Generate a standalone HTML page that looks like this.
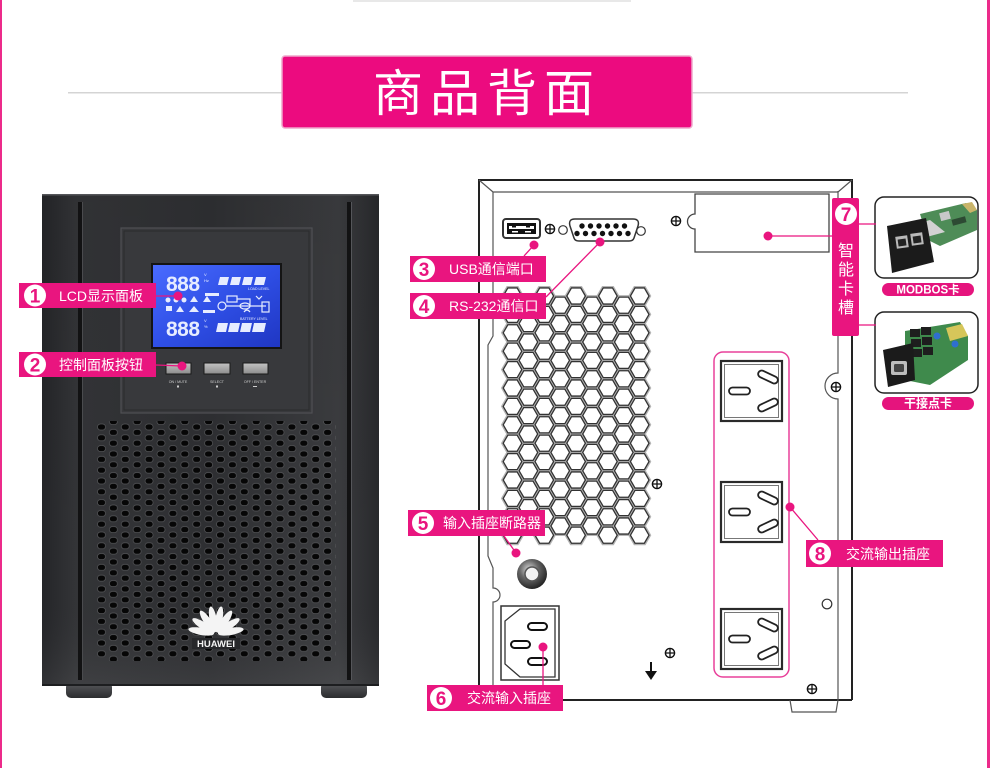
<!DOCTYPE html>
<html><head><meta charset="utf-8">
<style>
html,body{margin:0;padding:0;background:#fff;}
svg{display:block;}
text{font-family:"Liberation Sans","Noto Sans CJK SC",sans-serif;}
</style></head><body>
<svg width="990" height="768" viewBox="0 0 990 768" xmlns="http://www.w3.org/2000/svg" xmlns:xlink="http://www.w3.org/1999/xlink">
<defs>
 <linearGradient id="body" x1="0" x2="1" y1="0" y2="0">
  <stop offset="0" stop-color="#242528"/>
  <stop offset="0.1" stop-color="#333437"/>
  <stop offset="0.5" stop-color="#2e2f32"/>
  <stop offset="0.88" stop-color="#3b3c3f"/>
  <stop offset="1" stop-color="#28292c"/>
 </linearGradient>
 <linearGradient id="bodyv" x1="0" x2="0" y1="0" y2="1">
  <stop offset="0" stop-color="#000" stop-opacity="0.05"/>
  <stop offset="0.8" stop-color="#000" stop-opacity="0"/>
  <stop offset="1" stop-color="#fff" stop-opacity="0.06"/>
 </linearGradient>
 <linearGradient id="lcd" x1="0" x2="1" y1="0" y2="1">
  <stop offset="0" stop-color="#4a6cff"/>
  <stop offset="0.5" stop-color="#2f4fe6"/>
  <stop offset="1" stop-color="#1f36c2"/>
 </linearGradient>
 <linearGradient id="btn" x1="0" x2="0" y1="0" y2="1">
  <stop offset="0" stop-color="#c4c4c4"/>
  <stop offset="1" stop-color="#8c8c8c"/>
 </linearGradient>
 <linearGradient id="foot" x1="0" x2="0" y1="0" y2="1">
  <stop offset="0" stop-color="#5a5b5e"/>
  <stop offset="1" stop-color="#2b2c2e"/>
 </linearGradient>
 <radialGradient id="brk" cx="0.4" cy="0.35" r="0.7">
  <stop offset="0" stop-color="#d8d8d8"/>
  <stop offset="0.45" stop-color="#666"/>
  <stop offset="1" stop-color="#1c1c1c"/>
 </radialGradient>
 <pattern id="holes" patternUnits="userSpaceOnUse" x="97" y="423" width="23.8" height="10.8">
  <rect x="0.5" y="1" width="8" height="6" rx="3" fill="#060606" stroke="#56575a" stroke-width="0.7"/>
  <rect x="12.4" y="6.4" width="8" height="6" rx="3" fill="#060606" stroke="#56575a" stroke-width="0.7"/>
  <rect x="12.4" y="-4.4" width="8" height="6" rx="3" fill="#060606" stroke="#56575a" stroke-width="0.7"/>
 </pattern>
 <path id="hxg" d="M-9.3,0 L-4.65,-8.05 L4.65,-8.05 L9.3,0 L4.65,8.05 L-4.65,8.05Z" fill="none" stroke="#b4b4b4" stroke-width="4"/>
 <path id="hx" d="M-9.3,0 L-4.65,-8.05 L4.65,-8.05 L9.3,0 L4.65,8.05 L-4.65,8.05Z" fill="#fff" stroke="#333" stroke-width="1.3"/>
 <g id="colAg">
  <use href="#hxg" y="0"/><use href="#hxg" y="18.4"/><use href="#hxg" y="36.8"/><use href="#hxg" y="55.2"/><use href="#hxg" y="73.6"/><use href="#hxg" y="92"/><use href="#hxg" y="110.4"/><use href="#hxg" y="128.8"/><use href="#hxg" y="147.2"/><use href="#hxg" y="165.6"/><use href="#hxg" y="184"/><use href="#hxg" y="202.4"/><use href="#hxg" y="220.8"/><use href="#hxg" y="239.2"/>
 </g>
 <g id="colBg">
  <use href="#hxg" y="9.2"/><use href="#hxg" y="27.6"/><use href="#hxg" y="46"/><use href="#hxg" y="64.4"/><use href="#hxg" y="82.8"/><use href="#hxg" y="101.2"/><use href="#hxg" y="119.6"/><use href="#hxg" y="138"/><use href="#hxg" y="156.4"/><use href="#hxg" y="174.8"/><use href="#hxg" y="193.2"/><use href="#hxg" y="211.6"/><use href="#hxg" y="230"/>
 </g>
 <g id="colA">
  <use href="#hx" y="0"/><use href="#hx" y="18.4"/><use href="#hx" y="36.8"/><use href="#hx" y="55.2"/><use href="#hx" y="73.6"/><use href="#hx" y="92"/><use href="#hx" y="110.4"/><use href="#hx" y="128.8"/><use href="#hx" y="147.2"/><use href="#hx" y="165.6"/><use href="#hx" y="184"/><use href="#hx" y="202.4"/><use href="#hx" y="220.8"/><use href="#hx" y="239.2"/>
 </g>
 <g id="colB">
  <use href="#hx" y="9.2"/><use href="#hx" y="27.6"/><use href="#hx" y="46"/><use href="#hx" y="64.4"/><use href="#hx" y="82.8"/><use href="#hx" y="101.2"/><use href="#hx" y="119.6"/><use href="#hx" y="138"/><use href="#hx" y="156.4"/><use href="#hx" y="174.8"/><use href="#hx" y="193.2"/><use href="#hx" y="211.6"/><use href="#hx" y="230"/>
 </g>
 <g id="scr"><circle r="4.6" fill="#fff" stroke="#111" stroke-width="1.4"/><path d="M-4.6,0H4.6M0,-4.6V4.6" stroke="#111" stroke-width="1.3"/></g>
 <g id="outlet">
  <rect x="0" y="0" width="61" height="60" fill="#fff" stroke="#2a2a2a" stroke-width="2.2"/>
  <rect x="3.5" y="3.5" width="54" height="53" fill="none" stroke="#777" stroke-width="1"/>
  <rect x="8" y="26.5" width="21" height="7" rx="3.5" fill="#fff" stroke="#222" stroke-width="1.8"/>
  <rect x="-10.5" y="-3.5" width="21" height="7" rx="3.5" fill="#fff" stroke="#222" stroke-width="1.8" transform="translate(47,16) rotate(25)"/>
  <rect x="-10.5" y="-3.5" width="21" height="7" rx="3.5" fill="#fff" stroke="#222" stroke-width="1.8" transform="translate(47,44) rotate(-25)"/>
 </g>
</defs>

<!-- page edges -->
<rect x="0" y="0" width="2" height="768" fill="#ec2a8a"/>
<rect x="987" y="0" width="3" height="768" fill="#ec2a8a"/>
<rect x="353" y="0" width="278" height="2" fill="#e8e8e8"/>

<!-- title -->
<rect x="68" y="92" width="840" height="1.5" fill="#d4d4d4"/>
<rect x="282" y="56" width="410" height="72" rx="3" fill="#ec0b7f" stroke="#efa8cc" stroke-width="1.5"/>
<g font-size="50" fill="#fff" text-anchor="middle">
 <text x="398" y="111">商</text>
 <text x="455" y="111">品</text>
 <text x="512" y="111">背</text>
 <text x="569" y="111">面</text>
</g>

<!-- ================= LEFT UPS ================= -->
<rect x="66" y="682" width="46" height="16" rx="5" fill="url(#foot)"/>
<rect x="321" y="682" width="46" height="16" rx="5" fill="url(#foot)"/>
<rect x="42" y="194" width="337" height="492" rx="2" fill="url(#body)"/>
<rect x="42" y="194" width="337" height="492" rx="2" fill="url(#bodyv)"/>
<rect x="42" y="194" width="337" height="1.5" fill="#55565a"/>
<rect x="42" y="684" width="337" height="2" fill="#1d1e20"/>
<rect x="78" y="202" width="4" height="478" fill="#121213"/>
<rect x="82" y="202" width="1" height="478" fill="#4a4b4e"/>
<rect x="347" y="202" width="4" height="478" fill="#121213"/>
<rect x="351" y="202" width="1" height="478" fill="#55565a"/>

<!-- LCD frame -->
<rect x="121" y="228" width="191" height="185" fill="#38393c" stroke="#4f5054" stroke-width="1.2"/>
<rect x="124" y="231" width="185" height="179" fill="none" stroke="#2a2b2d" stroke-width="1"/>
<rect x="152" y="264" width="129" height="84" fill="url(#lcd)" stroke="#141414" stroke-width="2"/>
<g fill="#e6ecff">
 <text x="166" y="291" font-size="21" font-weight="bold" letter-spacing="-0.5">888</text>
 <text x="166" y="336" font-size="21" font-weight="bold" letter-spacing="-0.5">888</text>
 <text x="204" y="276" font-size="4">V</text><text x="204" y="282" font-size="4">Hz</text>
 <text x="204" y="322" font-size="4">V</text><text x="204" y="328" font-size="4">%</text>
 <polygon points="220,277 229,277 227,285 218,285"/>
 <polygon points="232,277 241,277 239,285 230,285"/>
 <polygon points="244,277 253,277 251,285 242,285"/>
 <polygon points="256,277 266,277 264,285 254,285"/>
 <text x="248" y="290" font-size="3.5">LOAD LEVEL</text>
 <polygon points="218,323 228,323 226,332 216,332"/>
 <polygon points="230,323 240,323 238,332 228,332"/>
 <polygon points="242,323 252,323 250,332 240,332"/>
 <polygon points="254,323 266,323 264,332 252,332"/>
 <text x="240" y="320" font-size="3.5">BATTERY LEVEL</text>
 <rect x="205" y="293" width="14" height="3"/>
 <circle cx="168" cy="300" r="2.5"/><circle cx="176" cy="300" r="2.5"/><circle cx="184" cy="300" r="2.5"/>
 <polygon points="190,302 194,296 198,302"/><polygon points="203,302 207,296 211,302"/>
 <rect x="166" y="306" width="6" height="5"/><polygon points="176,312 180,306 184,312"/><polygon points="189,312 194,306 199,312"/>
 <rect x="203" y="310" width="12" height="3"/>
</g>
<g fill="none" stroke="#e6ecff" stroke-width="1.2">
 <rect x="227" y="296" width="10" height="6"/>
 <circle cx="222" cy="306" r="4"/>
 <path d="M226,306 H266 M237,299 H250 V306"/>
 <ellipse cx="245" cy="306" rx="5" ry="3"/>
 <rect x="262" y="302" width="7" height="10"/>
 <path d="M244,312 q3,-4 6,0"/>
 <path d="M256,296 l3,3 l3,-3"/>
</g>
<!-- buttons -->
<rect x="166" y="363" width="25" height="11" fill="url(#btn)" stroke="#1a1a1a" stroke-width="1"/>
<rect x="204" y="363" width="26" height="11" fill="url(#btn)" stroke="#1a1a1a" stroke-width="1"/>
<rect x="243" y="363" width="25" height="11" fill="url(#btn)" stroke="#1a1a1a" stroke-width="1"/>
<g fill="#cfcfcf" font-size="3.6" text-anchor="middle">
 <text x="178" y="383">ON / MUTE</text>
 <text x="217" y="383">SELECT</text>
 <text x="255" y="383">OFF / ENTER</text>
 <rect x="177" y="385.5" width="2" height="2"/>
 <rect x="216" y="385.5" width="2" height="2"/>
 <rect x="253" y="386" width="4" height="1"/>
</g>

<!-- vent holes -->
<rect x="96" y="421" width="240" height="240" fill="url(#holes)"/>
<!-- huawei logo -->
<g fill="#f4f4f4" transform="translate(216,634)">
 <ellipse cx="0" cy="-15" rx="3.6" ry="13" transform="rotate(-80)"/>
 <ellipse cx="0" cy="-15" rx="3.6" ry="13" transform="rotate(-57)"/>
 <ellipse cx="0" cy="-15" rx="3.6" ry="13" transform="rotate(-34)"/>
 <ellipse cx="0" cy="-15" rx="3.6" ry="13" transform="rotate(-11)"/>
 <ellipse cx="0" cy="-15" rx="3.6" ry="13" transform="rotate(11)"/>
 <ellipse cx="0" cy="-15" rx="3.6" ry="13" transform="rotate(34)"/>
 <ellipse cx="0" cy="-15" rx="3.6" ry="13" transform="rotate(57)"/>
 <ellipse cx="0" cy="-15" rx="3.6" ry="13" transform="rotate(80)"/>
</g>
<rect x="192" y="638" width="48" height="11" fill="#26272a"/>
<text x="216" y="647" font-size="9.5" font-weight="bold" fill="#f4f4f4" text-anchor="middle">HUAWEI</text>

<!-- ================= REAR PANEL ================= -->
<g fill="none" stroke="#222" stroke-width="2">
 <path d="M479,700 V180 H852 V700"/>
 <path d="M479,700 H852"/>
</g>
<g fill="none" stroke="#555" stroke-width="1.2">
 <path d="M479,180 L493,192 H838 L852,180"/>
 <path d="M493,192 V336 L488,345 V556 L493,568 V588 A7,7 0 0 1 493,602 V700"/>
 <path d="M838,191 V373 A13,13 0 0 0 838,399 V700"/>
 <path d="M790,700 L792,712 H836 L838,700"/>
</g>

<!-- USB -->
<rect x="503" y="219" width="37" height="19" rx="3" fill="#fff" stroke="#333" stroke-width="2"/>
<rect x="507" y="223" width="29" height="11" fill="#111"/>
<rect x="509" y="226" width="25" height="3" fill="#fff"/>
<rect x="512" y="226" width="4" height="1.5" fill="#111"/>
<rect x="526" y="226" width="4" height="1.5" fill="#111"/>
<rect x="512" y="231" width="6" height="1.5" fill="#fff"/>
<rect x="525" y="231" width="6" height="1.5" fill="#fff"/>

<use href="#scr" x="550" y="229"/>
<circle cx="563" cy="230" r="4.3" fill="#fff" stroke="#333" stroke-width="1.2"/>
<!-- DB connector -->
<path d="M575,219 H633 Q640,219 638,226 L634,238 Q633,241 629,241 H579 Q575,241 574,238 L570,226 Q568,219 575,219 Z" fill="#fff" stroke="#333" stroke-width="1.5"/>
<g fill="#111">
 <circle cx="582" cy="226" r="2.7"/><circle cx="590.5" cy="226" r="2.7"/><circle cx="599" cy="226" r="2.7"/><circle cx="607.5" cy="226" r="2.7"/><circle cx="616" cy="226" r="2.7"/><circle cx="624.5" cy="226" r="2.7"/>
 <circle cx="577" cy="233.5" r="2.7"/><circle cx="585.5" cy="233.5" r="2.7"/><circle cx="594" cy="233.5" r="2.7"/><circle cx="602.5" cy="233.5" r="2.7"/><circle cx="611" cy="233.5" r="2.7"/><circle cx="619.5" cy="233.5" r="2.7"/><circle cx="628" cy="233.5" r="2.7"/>
</g>
<circle cx="641" cy="231" r="4.3" fill="#fff" stroke="#333" stroke-width="1.2"/>
<use href="#scr" x="676" y="221"/>
<!-- card slot -->
<path d="M695,194 H829 V252 H695 V229 A7.5,7.5 0 0 1 695,214 Z" fill="#fff" stroke="#444" stroke-width="1.3"/>

<!-- hex vent -->
<use href="#colAg" x="512.5" y="296"/><use href="#colBg" x="528.4" y="296"/><use href="#colAg" x="544.3" y="296"/><use href="#colBg" x="560.2" y="296"/><use href="#colAg" x="576.1" y="296"/><use href="#colBg" x="592" y="296"/><use href="#colAg" x="607.9" y="296"/><use href="#colBg" x="623.8" y="296"/><use href="#colAg" x="639.7" y="296"/>
<use href="#colA" x="512.5" y="296"/><use href="#colB" x="528.4" y="296"/><use href="#colA" x="544.3" y="296"/><use href="#colB" x="560.2" y="296"/><use href="#colA" x="576.1" y="296"/><use href="#colB" x="592" y="296"/><use href="#colA" x="607.9" y="296"/><use href="#colB" x="623.8" y="296"/><use href="#colA" x="639.7" y="296"/>

<use href="#scr" x="657" y="484"/>
<use href="#scr" x="836" y="387"/>
<use href="#scr" x="670" y="653"/>
<use href="#scr" x="812" y="689"/>
<circle cx="827" cy="604" r="4.8" fill="#fff" stroke="#333" stroke-width="1.2"/>

<!-- breaker -->
<circle cx="532" cy="574" r="15" fill="url(#brk)"/>
<circle cx="532" cy="574" r="7" fill="#f2f2f2" stroke="#555" stroke-width="1.5"/>

<!-- AC input -->
<rect x="501" y="606" width="58" height="74" fill="#fff" stroke="#333" stroke-width="1.5"/>
<path d="M520,609 H555 V677 H520 L505,664 V621 Z" fill="#fff" stroke="#333" stroke-width="1.3"/>
<rect x="528" y="623" width="19" height="7" rx="3.5" fill="#fff" stroke="#111" stroke-width="2"/>
<rect x="511" y="641" width="19" height="7" rx="3.5" fill="#fff" stroke="#111" stroke-width="2"/>
<rect x="528" y="658" width="19" height="7" rx="3.5" fill="#fff" stroke="#111" stroke-width="2"/>

<!-- arrow -->
<path d="M651,662 V673" stroke="#111" stroke-width="2"/>
<polygon points="645,671 657,671 651,680" fill="#111"/>

<!-- outlets -->
<rect x="714" y="352" width="75" height="325" rx="9" fill="none" stroke="#e8409a" stroke-width="1.5"/>
<use href="#outlet" x="721" y="361"/>
<use href="#outlet" x="721" y="482"/>
<use href="#outlet" x="721" y="609"/>

<!-- ================= CARDS ================= -->
<rect x="875" y="197" width="103" height="81" rx="9" fill="#fff" stroke="#222" stroke-width="1.5"/>
<polygon points="920,214 966,203 977,210 977,230 940,246 928,240" fill="#4e8c57"/>
<polygon points="962,204 972,202 977,210 970,213" fill="#c9b46a"/>
<rect x="940" y="212" width="10" height="8" fill="#c8c8c8" transform="rotate(-15 945 216)"/>
<rect x="952" y="218" width="14" height="6" fill="#2d4a33" transform="rotate(-15 959 221)"/>
<polygon points="898,229 930,220 945,232 912,241" fill="#d2d2d2"/>
<polygon points="887,226 926,218 934,262 892,273" fill="#1b1b1b"/>
<rect x="896" y="236" width="12" height="12" fill="#b9b9b9" transform="rotate(-8 902 242)"/>
<rect x="911" y="233" width="12" height="12" fill="#b9b9b9" transform="rotate(-8 917 239)"/>
<rect x="898" y="239" width="8" height="7" fill="#222" transform="rotate(-8 902 242)"/>
<rect x="913" y="236" width="8" height="7" fill="#222" transform="rotate(-8 917 239)"/>
<rect x="882" y="283" width="92" height="13" rx="6.5" fill="#e5147d"/>
<text x="928" y="293.5" font-size="11.5" font-weight="bold" fill="#fff" text-anchor="middle">MODBOS卡</text>

<rect x="875" y="312" width="103" height="81" rx="9" fill="#fff" stroke="#222" stroke-width="1.5"/>
<polygon points="905,331 960,322 968,336 968,360 930,385 905,380" fill="#3f8a4c"/>
<polygon points="946,328 962,324 968,336 950,341" fill="#d6c65a"/>
<g fill="#1e1e1e">
 <rect x="910" y="329" width="10" height="8"/><rect x="921" y="327" width="10" height="8"/>
 <rect x="911" y="339" width="10" height="8"/><rect x="922" y="337" width="10" height="8"/>
 <rect x="912" y="349" width="10" height="8"/><rect x="923" y="347" width="10" height="8"/>
</g>
<circle cx="937" cy="336" r="3.5" fill="#2f6fcf"/>
<circle cx="955" cy="344" r="3.5" fill="#2f6fcf"/>
<polygon points="883,350 913,343 915,380 888,387" fill="#1b1b1b"/>
<rect x="891" y="361" width="16" height="14" rx="2" fill="#bdbdbd"/>
<rect x="894" y="364" width="10" height="8" rx="1.5" fill="#444"/>
<rect x="882" y="397" width="92" height="13" rx="6.5" fill="#e5147d"/>
<text x="928" y="407.5" font-size="12" font-weight="bold" fill="#fff" text-anchor="middle">干接点卡</text>

<!-- label 7 -->
<rect x="832" y="198" width="27" height="138" rx="2" fill="#e9157f"/>
<circle cx="846" cy="214" r="11" fill="#fff"/>
<text x="846" y="221" font-size="19" font-weight="bold" fill="#e9157f" text-anchor="middle">7</text>
<g font-size="16" fill="#fff" text-anchor="middle">
 <text x="846" y="256">智</text>
 <text x="846" y="275">能</text>
 <text x="846" y="294">卡</text>
 <text x="846" y="313">槽</text>
</g>

<!-- connectors -->
<g stroke="#e9157f" stroke-width="1.3" fill="none">
 <path d="M156,296 L178,296"/>
 <path d="M156,365 L182,366"/>
 <path d="M534,245 L524,256"/>
 <path d="M600,242 L546,297"/>
 <path d="M516,553 L504,536"/>
 <path d="M543,647 V685"/>
 <path d="M768,236 H832"/>
 <path d="M790,507 L818,540"/>
 <path d="M859,224 H876"/>
 <path d="M859,325 H876"/>
</g>
<g fill="#e9157f">
 <circle cx="178" cy="296" r="4.5"/>
 <circle cx="182" cy="366" r="4.5"/>
 <circle cx="534" cy="245" r="4.5"/>
 <circle cx="600" cy="242" r="4.5"/>
 <circle cx="516" cy="553" r="4.5"/>
 <circle cx="543" cy="647" r="4.5"/>
 <circle cx="768" cy="236" r="4.5"/>
 <circle cx="790" cy="507" r="4.5"/>
</g>

<!-- labels -->
<g font-size="14" fill="#fff">
 <rect x="19" y="283" width="137" height="25" fill="#e9157f"/>
 <circle cx="35" cy="295.5" r="11"/>
 <text x="35" y="302.5" font-size="19" font-weight="bold" fill="#e9157f" text-anchor="middle">1</text>
 <text x="59" y="301">LCD显示面板</text>

 <rect x="19" y="352" width="137" height="25" fill="#e9157f"/>
 <circle cx="35" cy="364.5" r="11"/>
 <text x="35" y="371.5" font-size="19" font-weight="bold" fill="#e9157f" text-anchor="middle">2</text>
 <text x="59" y="370">控制面板按钮</text>

 <rect x="410" y="256" width="136" height="26" fill="#e9157f"/>
 <circle cx="424" cy="269" r="11"/>
 <text x="424" y="276" font-size="19" font-weight="bold" fill="#e9157f" text-anchor="middle">3</text>
 <text x="449" y="274">USB通信端口</text>

 <rect x="410" y="293" width="136" height="26" fill="#e9157f"/>
 <circle cx="424" cy="306" r="11"/>
 <text x="424" y="313" font-size="19" font-weight="bold" fill="#e9157f" text-anchor="middle">4</text>
 <text x="449" y="311">RS-232通信口</text>

 <rect x="408" y="510" width="137" height="26" fill="#e9157f"/>
 <circle cx="423" cy="523" r="11"/>
 <text x="423" y="530" font-size="19" font-weight="bold" fill="#e9157f" text-anchor="middle">5</text>
 <text x="443" y="528">输入插座断路器</text>

 <rect x="427" y="685" width="136" height="26" fill="#e9157f"/>
 <circle cx="441" cy="698" r="11"/>
 <text x="441" y="705" font-size="19" font-weight="bold" fill="#e9157f" text-anchor="middle">6</text>
 <text x="467" y="703">交流输入插座</text>

 <rect x="806" y="540" width="137" height="27" fill="#e9157f"/>
 <circle cx="820" cy="553.5" r="11"/>
 <text x="820" y="560.5" font-size="19" font-weight="bold" fill="#e9157f" text-anchor="middle">8</text>
 <text x="846" y="559">交流输出插座</text>
</g>
</svg>
</body></html>
